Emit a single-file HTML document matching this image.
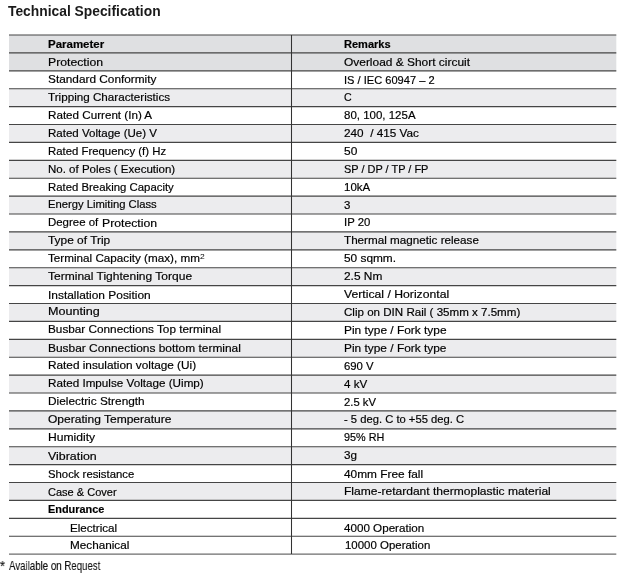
<!DOCTYPE html>
<html><head><meta charset="utf-8"><title>Technical Specification</title>
<style>
html,body{margin:0;padding:0;background:#fff}
body{width:624px;height:582px;position:relative;overflow:hidden;font-family:"Liberation Sans",sans-serif;color:#000}
svg{position:absolute;left:0;top:0}
.t{position:absolute;-webkit-text-stroke:0.18px #000;white-space:pre;line-height:1;font-size:11px;transform-origin:0 0}
.b{font-weight:bold}
h1{position:absolute;will-change:transform;margin:0;left:8.4px;top:5.3px;font-size:13.8px;line-height:1;font-weight:bold;white-space:pre;transform-origin:0 0;color:#1a1a1a}
.fn{position:absolute;will-change:transform;white-space:pre;-webkit-text-stroke:0.12px #000;line-height:1;font-size:13.3px;transform-origin:0 0;color:#111}
</style></head><body>

<svg width="624" height="582" viewBox="0 0 624 582">
<rect x="9" y="35.00" width="607.3" height="17.90" fill="#dfe0e2"/>
<rect x="9" y="52.90" width="607.3" height="17.90" fill="#dfe0e2"/>
<rect x="9" y="88.70" width="607.3" height="17.90" fill="#ececee"/>
<rect x="9" y="124.50" width="607.3" height="17.90" fill="#ececee"/>
<rect x="9" y="160.30" width="607.3" height="17.90" fill="#ececee"/>
<rect x="9" y="196.10" width="607.3" height="17.90" fill="#ececee"/>
<rect x="9" y="231.90" width="607.3" height="17.90" fill="#ececee"/>
<rect x="9" y="267.70" width="607.3" height="17.90" fill="#ececee"/>
<rect x="9" y="303.50" width="607.3" height="17.90" fill="#ececee"/>
<rect x="9" y="339.30" width="607.3" height="17.90" fill="#ececee"/>
<rect x="9" y="375.10" width="607.3" height="17.90" fill="#ececee"/>
<rect x="9" y="410.90" width="607.3" height="17.90" fill="#ececee"/>
<rect x="9" y="446.70" width="607.3" height="17.90" fill="#ececee"/>
<rect x="9" y="482.50" width="607.3" height="17.90" fill="#ececee"/>
<line x1="9" y1="35.00" x2="616.3" y2="35.00" stroke="#454545" stroke-width="1.15"/>
<line x1="9" y1="52.90" x2="616.3" y2="52.90" stroke="#454545" stroke-width="1.15"/>
<line x1="9" y1="70.80" x2="616.3" y2="70.80" stroke="#454545" stroke-width="1.15"/>
<line x1="9" y1="88.70" x2="616.3" y2="88.70" stroke="#454545" stroke-width="1.15"/>
<line x1="9" y1="106.60" x2="616.3" y2="106.60" stroke="#454545" stroke-width="1.15"/>
<line x1="9" y1="124.50" x2="616.3" y2="124.50" stroke="#454545" stroke-width="1.15"/>
<line x1="9" y1="142.40" x2="616.3" y2="142.40" stroke="#454545" stroke-width="1.15"/>
<line x1="9" y1="160.30" x2="616.3" y2="160.30" stroke="#454545" stroke-width="1.15"/>
<line x1="9" y1="178.20" x2="616.3" y2="178.20" stroke="#454545" stroke-width="1.15"/>
<line x1="9" y1="196.10" x2="616.3" y2="196.10" stroke="#454545" stroke-width="1.15"/>
<line x1="9" y1="214.00" x2="616.3" y2="214.00" stroke="#454545" stroke-width="1.15"/>
<line x1="9" y1="231.90" x2="616.3" y2="231.90" stroke="#454545" stroke-width="1.15"/>
<line x1="9" y1="249.80" x2="616.3" y2="249.80" stroke="#454545" stroke-width="1.15"/>
<line x1="9" y1="267.70" x2="616.3" y2="267.70" stroke="#454545" stroke-width="1.15"/>
<line x1="9" y1="285.60" x2="616.3" y2="285.60" stroke="#454545" stroke-width="1.15"/>
<line x1="9" y1="303.50" x2="616.3" y2="303.50" stroke="#454545" stroke-width="1.15"/>
<line x1="9" y1="321.40" x2="616.3" y2="321.40" stroke="#454545" stroke-width="1.15"/>
<line x1="9" y1="339.30" x2="616.3" y2="339.30" stroke="#454545" stroke-width="1.15"/>
<line x1="9" y1="357.20" x2="616.3" y2="357.20" stroke="#454545" stroke-width="1.15"/>
<line x1="9" y1="375.10" x2="616.3" y2="375.10" stroke="#454545" stroke-width="1.15"/>
<line x1="9" y1="393.00" x2="616.3" y2="393.00" stroke="#454545" stroke-width="1.15"/>
<line x1="9" y1="410.90" x2="616.3" y2="410.90" stroke="#454545" stroke-width="1.15"/>
<line x1="9" y1="428.80" x2="616.3" y2="428.80" stroke="#454545" stroke-width="1.15"/>
<line x1="9" y1="446.70" x2="616.3" y2="446.70" stroke="#454545" stroke-width="1.15"/>
<line x1="9" y1="464.60" x2="616.3" y2="464.60" stroke="#454545" stroke-width="1.15"/>
<line x1="9" y1="482.50" x2="616.3" y2="482.50" stroke="#454545" stroke-width="1.15"/>
<line x1="9" y1="500.40" x2="616.3" y2="500.40" stroke="#454545" stroke-width="1.15"/>
<line x1="9" y1="518.30" x2="616.3" y2="518.30" stroke="#454545" stroke-width="1.15"/>
<line x1="9" y1="536.20" x2="616.3" y2="536.20" stroke="#454545" stroke-width="1.15"/>
<line x1="9" y1="554.10" x2="616.3" y2="554.10" stroke="#6c6c6c" stroke-width="1.15"/>
<line x1="291.5" y1="35.00" x2="291.5" y2="554.10" stroke="#333" stroke-width="1.05"/>
</svg>
<div id="txt" style="position:absolute;left:0;top:0;width:624px;height:582px;will-change:transform">
<span class="t b" id="t0_0" style="left:48px;top:39px;transform:scaleX(1.0442)">Parameter</span>
<span class="t b" id="t0_1" style="left:344px;top:39px;transform:scaleX(1.0025)">Remarks</span>
<span class="t" id="t1_0" style="left:48px;top:57px;transform:scaleX(1.1127)">Protection</span>
<span class="t" id="t1_1" style="left:344px;top:57px;transform:scaleX(1.0848)">Overload &amp; Short circuit</span>
<span class="t" id="t2_0" style="left:48px;top:74px;transform:scaleX(1.0750)">Standard Conformity</span>
<span class="t" id="t2_1" style="left:344px;top:75px;transform:scaleX(1.0073)">IS / IEC 60947 – 2</span>
<span class="t" id="t3_0" style="left:48px;top:92px;transform:scaleX(1.0600)">Tripping Characteristics</span>
<span class="t" id="t3_1" style="left:344px;top:92px;transform:scaleX(0.9672)">C</span>
<span class="t" id="t4_0" style="left:48px;top:110px;transform:scaleX(1.0579)">Rated Current (In) A</span>
<span class="t" id="t4_1" style="left:344px;top:110px;transform:scaleX(1.0447)">80, 100, 125A</span>
<span class="t" id="t5_0" style="left:48px;top:128px;transform:scaleX(1.0489)">Rated Voltage (Ue) V</span>
<span class="t" id="t5_1" style="left:344px;top:128px;transform:scaleX(1.0686)">240  / 415 Vac</span>
<span class="t" id="t6_0" style="left:48px;top:146px;transform:scaleX(1.0332)">Rated Frequency (f) Hz</span>
<span class="t" id="t6_1" style="left:344px;top:146px;transform:scaleX(1.0844)">50</span>
<span class="t" id="t7_0" style="left:48px;top:164px;transform:scaleX(1.0455)">No. of Poles ( Execution)</span>
<span class="t" id="t7_1" style="left:344px;top:164px;transform:scaleX(0.9954)">SP / DP / TP / FP</span>
<span class="t" id="t8_0" style="left:48px;top:182px;transform:scaleX(1.0337)">Rated Breaking Capacity</span>
<span class="t" id="t8_1" style="left:344px;top:182px;transform:scaleX(1.0422)">10kA</span>
<span class="t" id="t9_0" style="left:48px;top:199px;transform:scaleX(1.0222)">Energy Limiting Class</span>
<span class="t" id="t9_1" style="left:344px;top:200px;transform:scaleX(1.0400)">3</span>
<span class="t" id="t10_0" style="left:48px;top:217px;transform:scaleX(1.0397)">Degree of</span>
<span class="t" id="t10_1" style="left:344px;top:217px;transform:scaleX(1.0315)">IP 20</span>
<span class="t" id="t11_0" style="left:48px;top:235px;transform:scaleX(1.0821)">Type of Trip</span>
<span class="t" id="t11_1" style="left:344px;top:235px;transform:scaleX(1.0610)">Thermal magnetic release</span>
<span class="t" id="t12_0" style="left:48px;top:253px;transform:scaleX(1.0618)">Terminal Capacity (max), mm<span style="font-size:8px;-webkit-text-stroke:0;position:relative;top:-3px;margin-left:0.2px">2</span></span>
<span class="t" id="t12_1" style="left:344px;top:253px;transform:scaleX(1.0774)">50 sqmm.</span>
<span class="t" id="t13_0" style="left:48px;top:271px;transform:scaleX(1.0927)">Terminal Tightening Torque</span>
<span class="t" id="t13_1" style="left:344px;top:271px;transform:scaleX(1.0799)">2.5 Nm</span>
<span class="t" id="t14_0" style="left:48px;top:290px;transform:scaleX(1.0839)">Installation Position</span>
<span class="t" id="t14_1" style="left:344px;top:289px;transform:scaleX(1.1098)">Vertical / Horizontal</span>
<span class="t" id="t15_0" style="left:48px;top:306px;transform:scaleX(1.1441)">Mounting</span>
<span class="t" id="t15_1" style="left:344px;top:307px;transform:scaleX(1.0525)">Clip on DIN Rail ( 35mm x 7.5mm)</span>
<span class="t" id="t16_0" style="left:48px;top:324px;transform:scaleX(1.0691)">Busbar Connections Top terminal</span>
<span class="t" id="t16_1" style="left:344px;top:325px;transform:scaleX(1.0818)">Pin type / Fork type</span>
<span class="t" id="t17_0" style="left:48px;top:343px;transform:scaleX(1.0842)">Busbar Connections bottom terminal</span>
<span class="t" id="t17_1" style="left:344px;top:343px;transform:scaleX(1.0811)">Pin type / Fork type</span>
<span class="t" id="t18_0" style="left:48px;top:360px;transform:scaleX(1.0718)">Rated insulation voltage (Ui)</span>
<span class="t" id="t18_1" style="left:344px;top:361px;transform:scaleX(1.0309)">690 V</span>
<span class="t" id="t19_0" style="left:48px;top:378px;transform:scaleX(1.0615)">Rated Impulse Voltage (Uimp)</span>
<span class="t" id="t19_1" style="left:344px;top:379px;transform:scaleX(1.0571)">4 kV</span>
<span class="t" id="t20_0" style="left:48px;top:396px;transform:scaleX(1.0756)">Dielectric Strength</span>
<span class="t" id="t20_1" style="left:344px;top:397px;transform:scaleX(1.0241)">2.5 kV</span>
<span class="t" id="t21_0" style="left:48px;top:414px;transform:scaleX(1.0936)">Operating Temperature</span>
<span class="t" id="t21_1" style="left:344px;top:414px;transform:scaleX(1.0199)">- 5 deg. C to +55 deg. C</span>
<span class="t" id="t22_0" style="left:48px;top:432px;transform:scaleX(1.1023)">Humidity</span>
<span class="t" id="t22_1" style="left:344px;top:432px;transform:scaleX(0.9836)">95% RH</span>
<span class="t" id="t23_0" style="left:48px;top:451px;transform:scaleX(1.1258)">Vibration</span>
<span class="t" id="t23_1" style="left:344px;top:450px;transform:scaleX(1.0601)">3g</span>
<span class="t" id="t24_0" style="left:48px;top:469px;transform:scaleX(1.0292)">Shock resistance</span>
<span class="t" id="t24_1" style="left:344px;top:469px;transform:scaleX(1.0781)">40mm Free fall</span>
<span class="t" id="t25_0" style="left:48px;top:487px;transform:scaleX(1.0019)">Case &amp; Cover</span>
<span class="t" id="t25_1" style="left:344px;top:486px;transform:scaleX(1.0945)">Flame-retardant thermoplastic material</span>
<span class="t b" id="t26_0" style="left:48px;top:504px;transform:scaleX(0.9915)">Endurance</span>
<span class="t" id="t27_0" style="left:70px;top:523px;transform:scaleX(1.0566)">Electrical</span>
<span class="t" id="t27_1" style="left:344px;top:523px;transform:scaleX(1.0577)">4000 Operation</span>
<span class="t" id="t28_0" style="left:70px;top:540px;transform:scaleX(1.0658)">Mechanical</span>
<span class="t" id="t28_1" style="left:345px;top:540px;transform:scaleX(1.0403)">10000 Operation</span>
<span class="t" id="tx" style="left:102px;top:218px;transform:scaleX(1.1127)">Protection</span>
</div>
<h1 id="h1" style="transform:scaleX(1.0018)">Technical Specification</h1>
<span class="fn" id="fn1" style="left:0.2px;top:557.9px;font-size:15px;transform:scaleX(0.85)">*</span>
<span class="fn" id="fn2" style="left:9.0px;top:558.7px;transform:scaleX(0.7286)">Available on Request</span>
</body></html>
